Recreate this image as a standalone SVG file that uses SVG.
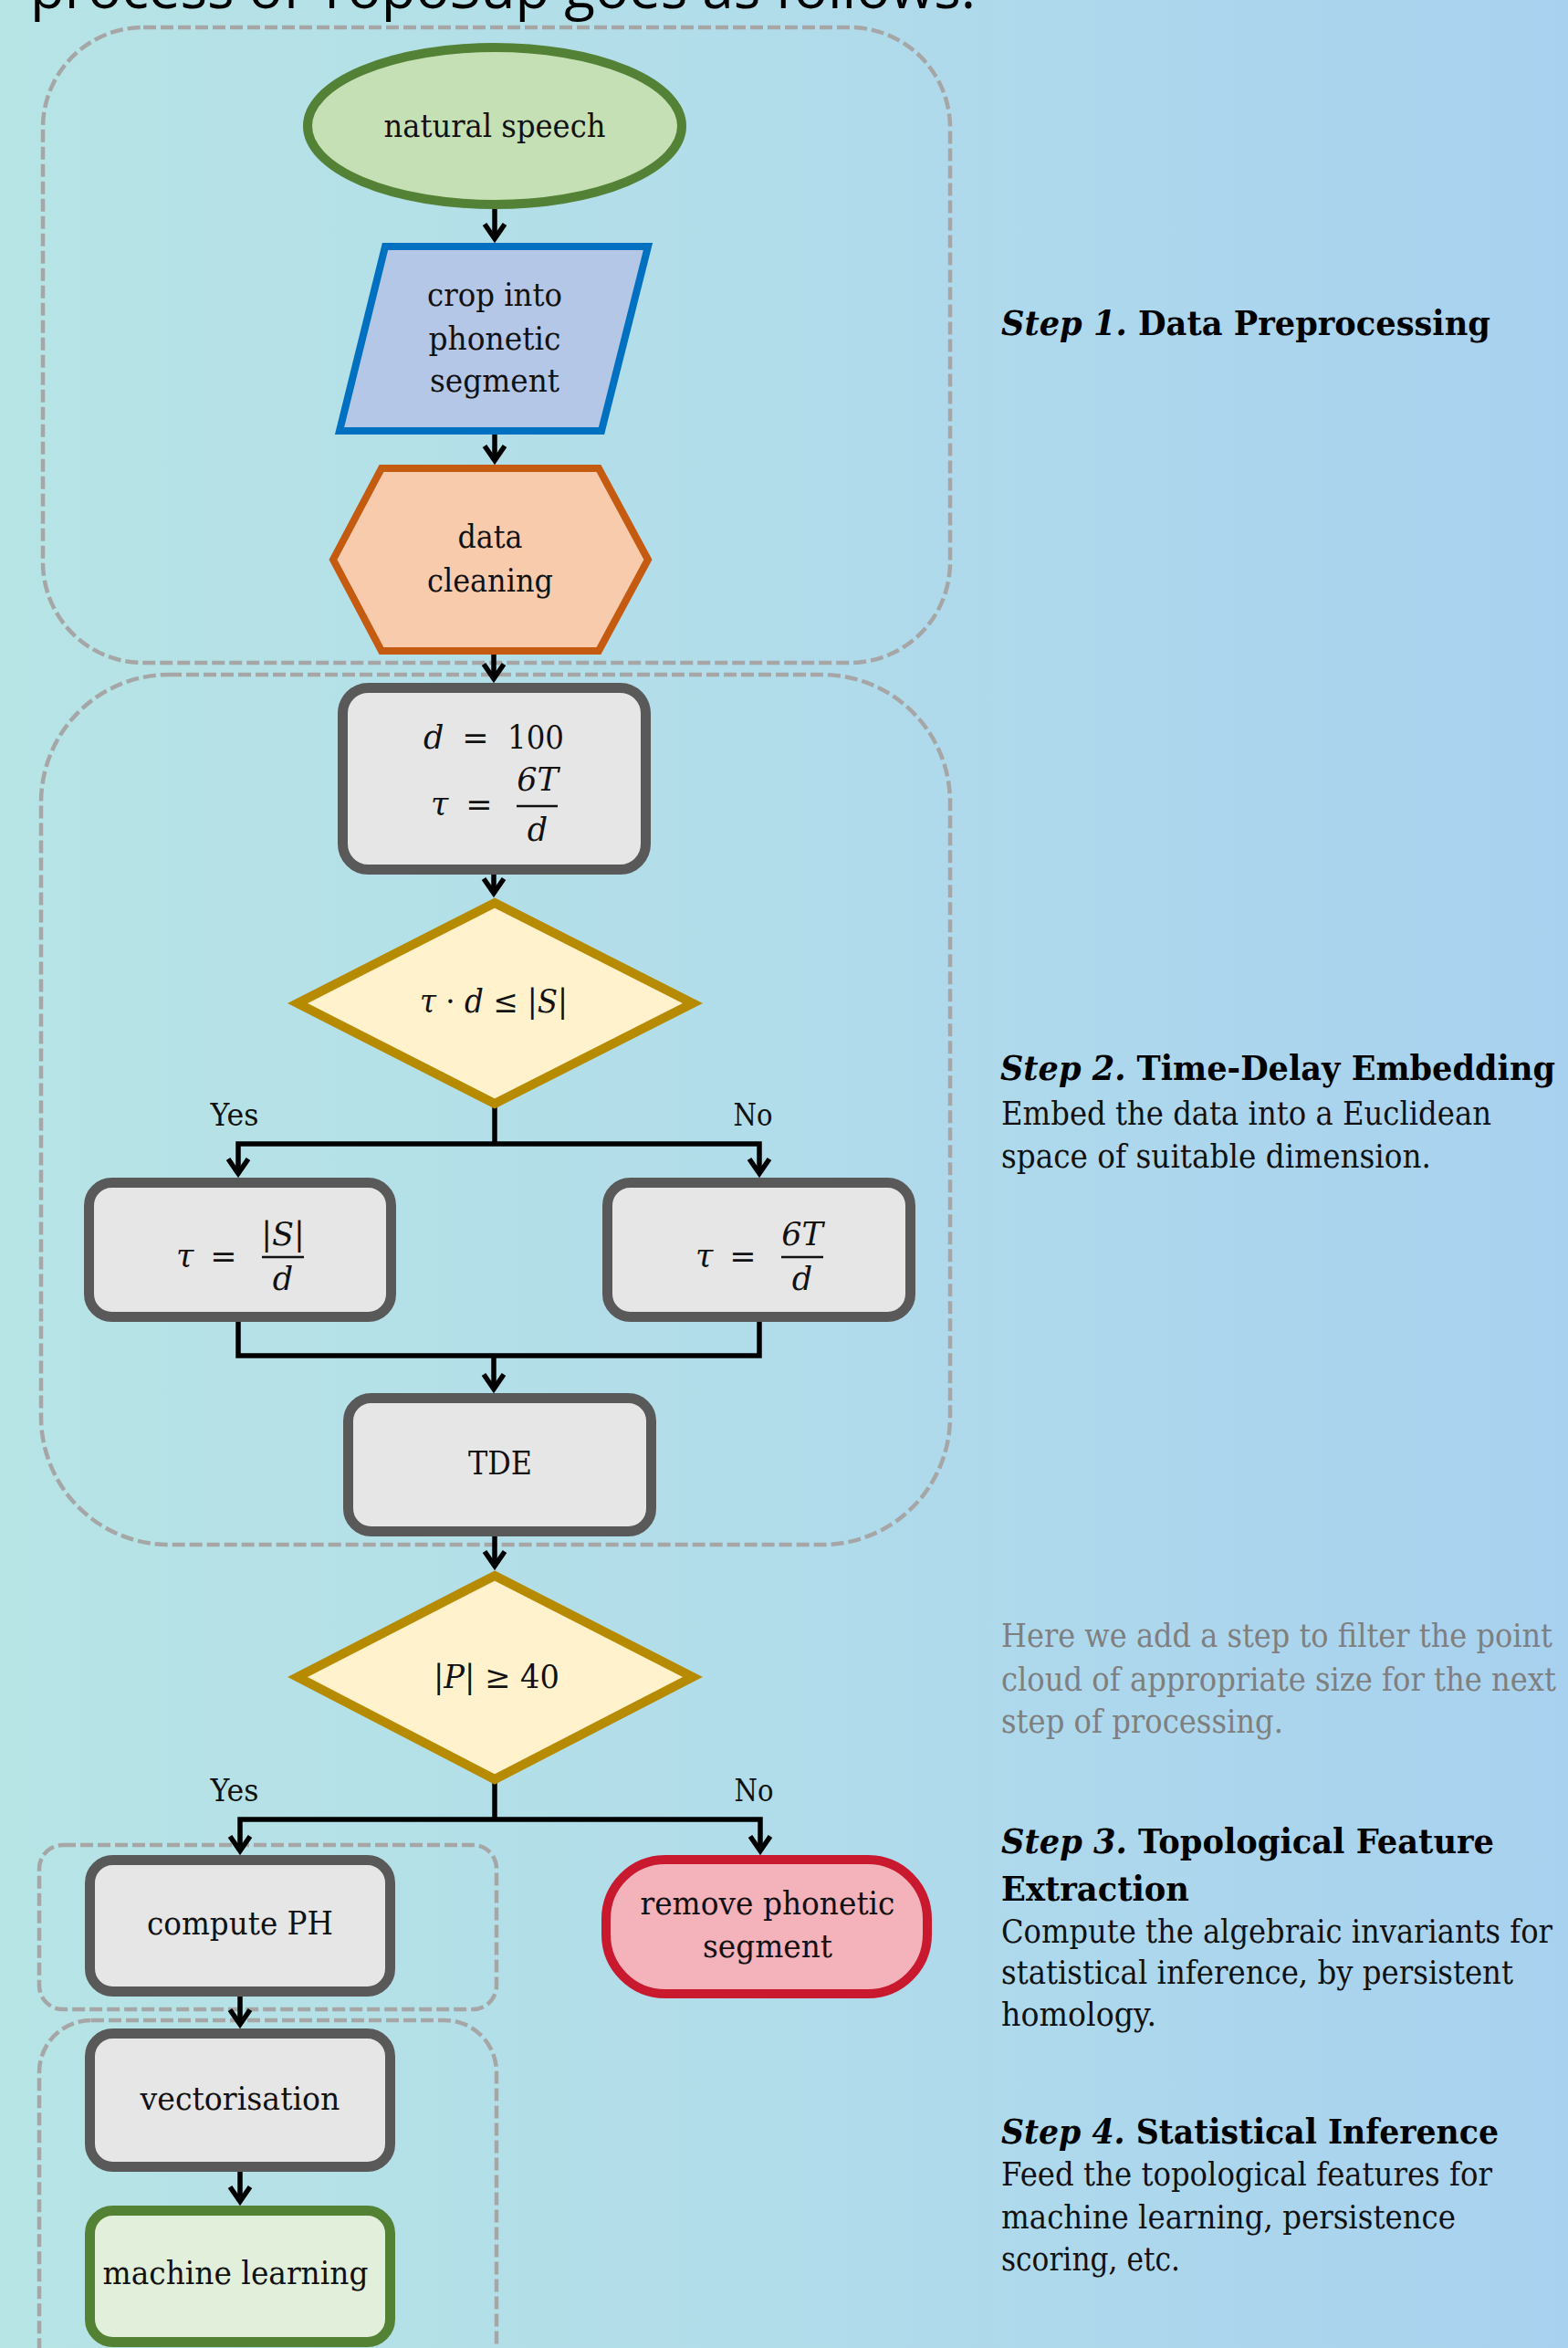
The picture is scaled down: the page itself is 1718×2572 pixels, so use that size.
<svg xmlns="http://www.w3.org/2000/svg" width="1718" height="2572" viewBox="0 0 1718 2572">
<defs>
<linearGradient id="bg" x1="0" y1="0" x2="1" y2="0">
<stop offset="0" stop-color="#b7e4e5"/>
<stop offset="0.5" stop-color="#b1dcea"/>
<stop offset="1" stop-color="#a8d1ef"/>
</linearGradient>
<marker id="ah" markerUnits="userSpaceOnUse" markerWidth="30" markerHeight="30" refX="18.5" refY="12" orient="auto" overflow="visible">
<path d="M4,1 L20,12 L4,23" fill="none" stroke="#000" stroke-width="5.5"/>
</marker>
<style>
.grp{fill:none;stroke:#a6a6a6;stroke-width:4.5;stroke-dasharray:14 5}
.con{fill:none;stroke:#000;stroke-width:5.5;stroke-linejoin:miter}
.arr{marker-end:url(#ah)}
.proc{fill:#e7e6e6;stroke:#595959;stroke-width:11}
.dec{fill:#fff2cc;stroke:#b78b00;stroke-width:10;stroke-linejoin:miter}
.lbl{font-family:"DejaVu Serif","Liberation Serif",serif;font-size:36px;fill:#111;text-anchor:middle}
.m{font-family:"DejaVu Serif","Liberation Serif",serif;font-size:35px;fill:#111}
.i{font-style:italic}
.yn{font-family:"DejaVu Serif","Liberation Serif",serif;font-size:34px;fill:#111;text-anchor:middle}
.side{font-family:"DejaVu Serif","Liberation Serif",serif;font-size:35px;fill:#111}
.title{font-family:"DejaVu Serif","Liberation Serif",serif;font-size:38px;font-weight:bold;fill:#000}
.note{font-family:"DejaVu Serif","Liberation Serif",serif;font-size:35px;fill:#7f7f7f}
</style>
</defs>
<rect x="0" y="0" width="1718" height="2572" fill="url(#bg)"/>
<text x="33" y="9" font-family="'Open Sans','Noto Sans',sans-serif" font-size="62" fill="#000" textLength="1036">process of TopoSup goes as follows.</text>

<g id="groups">
<rect id="group-step1" class="grp" x="47" y="30" width="994" height="696" rx="110" ry="110"/>
<rect id="group-step2" class="grp" x="45" y="739" width="996" height="953" rx="140" ry="140"/>
<rect id="group-step3" class="grp" x="43" y="2021" width="501" height="180" rx="26" ry="26"/>
<rect id="group-step4" class="grp" x="43" y="2213" width="501" height="420" rx="57" ry="57"/>
</g>

<g id="connectors">
<path class="con arr" d="M542,229 V260"/>
<path class="con arr" d="M542,476 V503"/>
<path class="con arr" d="M541,717 V742"/>
<path class="con arr" d="M541,958 V977"/>
<path class="con" d="M542,1210 V1253"/>
<path class="con arr" d="M542,1253 H261 V1284"/>
<path class="con arr" d="M542,1253 H832 V1284"/>
<path class="con" d="M261,1448 V1485 H832 V1448"/>
<path class="con arr" d="M541,1485 V1520"/>
<path class="con arr" d="M542,1683 V1714"/>
<path class="con" d="M542,1950 V1993"/>
<path class="con arr" d="M542,1993 H263 V2026"/>
<path class="con arr" d="M542,1993 H833 V2026"/>
<path class="con arr" d="M263,2187 V2216"/>
<path class="con arr" d="M263,2379 V2410"/>
<text class="yn" x="257" y="1233" textLength="53" lengthAdjust="spacingAndGlyphs">Yes</text>
<text class="yn" x="825" y="1233" textLength="43" lengthAdjust="spacingAndGlyphs">No</text>
<text class="yn" x="257" y="1973" textLength="53" lengthAdjust="spacingAndGlyphs">Yes</text>
<text class="yn" x="826" y="1973" textLength="43" lengthAdjust="spacingAndGlyphs">No</text>
</g>

<g id="n-speech">
<ellipse cx="542" cy="138" rx="205" ry="86" fill="#c5e0b4" stroke="#538135" stroke-width="10"/>
<text class="lbl" x="542" y="150" textLength="243" lengthAdjust="spacingAndGlyphs">natural speech</text>
</g>
<g id="n-crop">
<polygon points="422,270 710,270 659,472 372,472" fill="#b4c7e7" stroke="#0070c0" stroke-width="8"/>
<text class="lbl" x="542" y="335" textLength="148" lengthAdjust="spacingAndGlyphs">crop into</text>
<text class="lbl" x="542" y="383" textLength="145" lengthAdjust="spacingAndGlyphs">phonetic</text>
<text class="lbl" x="542" y="429" textLength="142" lengthAdjust="spacingAndGlyphs">segment</text>
</g>
<g id="n-clean">
<polygon points="418,513 656,513 710,613 656,713 418,713 365,613" fill="#f8cbad" stroke="#c55a11" stroke-width="8"/>
<text class="lbl" x="537" y="600" textLength="71" lengthAdjust="spacingAndGlyphs">data</text>
<text class="lbl" x="537" y="648" textLength="138" lengthAdjust="spacingAndGlyphs">cleaning</text>
</g>
<g id="n-params">
<rect class="proc" x="375.5" y="753.5" width="332" height="199" rx="28"/>
<text class="m i" x="464" y="820">d</text>
<text class="m" x="521" y="820" text-anchor="middle">=</text>
<text class="m" x="556" y="820" textLength="62" lengthAdjust="spacingAndGlyphs">100</text>
<text class="m i" x="472" y="893">τ</text>
<text class="m" x="525" y="893" text-anchor="middle">=</text>
<text class="m i" x="589" y="866" text-anchor="middle">6T</text>
<line x1="566" y1="883" x2="611" y2="883" stroke="#111" stroke-width="2.5"/>
<text class="m i" x="589" y="921" text-anchor="middle">d</text>
</g>
<g id="n-cond1">
<polygon class="dec" points="542,989 759,1099 542,1209 326,1099"/>
<text class="m" x="541" y="1109" text-anchor="middle" textLength="162" lengthAdjust="spacingAndGlyphs"><tspan class="i">τ</tspan> · <tspan class="i">d</tspan> ≤ |<tspan class="i">S</tspan>|</text>
</g>
<g id="n-tau-yes">
<rect class="proc" x="97.5" y="1295.5" width="331" height="147" rx="25"/>
<text class="m i" x="193" y="1388">τ</text>
<text class="m" x="245" y="1388" text-anchor="middle">=</text>
<text class="m" x="310" y="1364" text-anchor="middle">|<tspan class="i">S</tspan>|</text>
<line x1="287" y1="1377" x2="333" y2="1377" stroke="#111" stroke-width="2.5"/>
<text class="m i" x="310" y="1413" text-anchor="middle">d</text>
</g>
<g id="n-tau-no">
<rect class="proc" x="665.5" y="1295.5" width="332" height="147" rx="25"/>
<text class="m i" x="762" y="1388">τ</text>
<text class="m" x="814" y="1388" text-anchor="middle">=</text>
<text class="m i" x="879" y="1364" text-anchor="middle">6T</text>
<line x1="856" y1="1377" x2="902" y2="1377" stroke="#111" stroke-width="2.5"/>
<text class="m i" x="879" y="1413" text-anchor="middle">d</text>
</g>
<g id="n-tde">
<rect class="proc" x="381.5" y="1531.5" width="332" height="146" rx="25"/>
<text class="lbl" x="548" y="1615" textLength="70" lengthAdjust="spacingAndGlyphs">TDE</text>
</g>
<g id="n-cond2">
<polygon class="dec" points="542,1726 759,1837 542,1949 326,1837"/>
<text class="m" x="544" y="1849" text-anchor="middle" textLength="138" lengthAdjust="spacingAndGlyphs">|<tspan class="i">P</tspan>| ≥ 40</text>
</g>
<g id="n-ph">
<rect class="proc" x="98.5" y="2037.5" width="329" height="144" rx="25"/>
<text class="lbl" x="263" y="2119" textLength="204" lengthAdjust="spacingAndGlyphs">compute PH</text>
</g>
<g id="n-remove">
<rect x="664" y="2037" width="352" height="147" rx="65" fill="#f4b2bb" stroke="#c8192e" stroke-width="10"/>
<text class="lbl" x="841" y="2097" textLength="279" lengthAdjust="spacingAndGlyphs">remove phonetic</text>
<text class="lbl" x="841" y="2144" textLength="142" lengthAdjust="spacingAndGlyphs">segment</text>
</g>
<g id="n-vec">
<rect class="proc" x="98.5" y="2227.5" width="329" height="146" rx="25"/>
<text class="lbl" x="263" y="2311" textLength="219" lengthAdjust="spacingAndGlyphs">vectorisation</text>
</g>
<g id="n-ml">
<rect x="98.5" y="2421.5" width="329" height="144" rx="25" fill="#e2efda" stroke="#548235" stroke-width="11"/>
<text class="lbl" x="258" y="2502" textLength="291" lengthAdjust="spacingAndGlyphs">machine learning</text>
</g>

<g id="side-text">
<text class="title" x="1097" y="367" textLength="536" lengthAdjust="spacingAndGlyphs"><tspan font-style="italic">Step 1.</tspan>  Data Preprocessing</text>
<text class="title" x="1096" y="1183" textLength="608" lengthAdjust="spacingAndGlyphs"><tspan font-style="italic">Step 2.</tspan>  Time-Delay Embedding</text>
<text class="side" x="1097" y="1232" textLength="537" lengthAdjust="spacingAndGlyphs">Embed the data into a Euclidean</text>
<text class="side" x="1097" y="1279" textLength="471" lengthAdjust="spacingAndGlyphs">space of suitable dimension.</text>
<text class="note" x="1097" y="1804" textLength="604" lengthAdjust="spacingAndGlyphs">Here we add a step to filter the point</text>
<text class="note" x="1097" y="1852" textLength="608" lengthAdjust="spacingAndGlyphs">cloud of appropriate size for the next</text>
<text class="note" x="1097" y="1898" textLength="309" lengthAdjust="spacingAndGlyphs">step of processing.</text>
<text class="title" x="1097" y="2030" textLength="540" lengthAdjust="spacingAndGlyphs"><tspan font-style="italic">Step 3.</tspan>  Topological Feature</text>
<text class="title" x="1097" y="2082" textLength="206" lengthAdjust="spacingAndGlyphs">Extraction</text>
<text class="side" x="1097" y="2128" textLength="604" lengthAdjust="spacingAndGlyphs">Compute the algebraic invariants for</text>
<text class="side" x="1097" y="2173" textLength="561" lengthAdjust="spacingAndGlyphs">statistical inference, by persistent</text>
<text class="side" x="1097" y="2219" textLength="170" lengthAdjust="spacingAndGlyphs">homology.</text>
<text class="title" x="1097" y="2348" textLength="545" lengthAdjust="spacingAndGlyphs"><tspan font-style="italic">Step 4.</tspan>  Statistical Inference</text>
<text class="side" x="1097" y="2394" textLength="538" lengthAdjust="spacingAndGlyphs">Feed the topological features for</text>
<text class="side" x="1097" y="2441" textLength="498" lengthAdjust="spacingAndGlyphs">machine learning, persistence</text>
<text class="side" x="1097" y="2487" textLength="196" lengthAdjust="spacingAndGlyphs">scoring, etc.</text>
</g>
</svg>
